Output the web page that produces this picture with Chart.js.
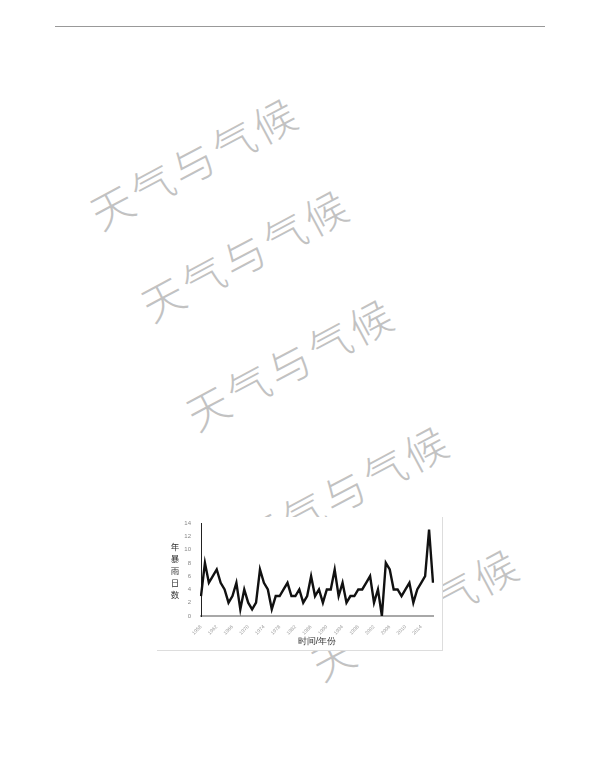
<!DOCTYPE html>
<html>
<head>
<meta charset="utf-8">
<script src="https://cdn.jsdelivr.net/npm/chart.js@4/dist/chart.umd.min.js"></script>
<style>
	html, body { margin: 0; padding: 0; background: #fff; }
	body { width: 600px; height: 768px; position: relative; overflow: hidden;
		font-family: "Noto Sans CJK SC", "Noto Sans", sans-serif; }
	#topline { position: absolute; left: 55px; top: 26px; width: 490px; height: 0;
		border-top: 1.5px solid #999; }
	.mark { position: absolute; white-space: nowrap; font-size: 42px; font-weight: 200;
		letter-spacing: 4px; color: #c2c2c2; transform: translate(-50%, -50%) rotate(-28deg); }
	#box { position: absolute; left: 157px; top: 517px; width: 285px; height: 133px;
		background: #fff; border-right: 1px solid #ddd; border-bottom: 1px solid #ddd; z-index: 2; }
	#ytitle { position: absolute; left: 12px; top: 23px; width: 12px; }
	#ytitle span { display: block; height: 12px; font-size: 8.5px; line-height: 12px;
		color: #333; text-align: center; }
</style>
</head>
<body>
<div id="topline"></div>
<div class="mark" style="left:194px; top:161px;">天气与气候</div>
<div class="mark" style="left:245px; top:253px;">天气与气候</div>
<div class="mark" style="left:290px; top:362px;">天气与气候</div>
<div class="mark" style="left:345px; top:489px;">天气与气候</div>
<div class="mark" style="left:415px; top:612px;">天气与气候</div>
<div id="box">
	<div id="ytitle"><span>年</span><span>暴</span><span>雨</span><span>日</span><span>数</span></div>
	<canvas id="chart" width="285" height="133"></canvas>
</div>
<script>
"use strict";

// Data

var YEARS = [],
	FIRST_YEAR = 1958,
	LAST_YEAR = 2017;

for (var y = FIRST_YEAR; y <= LAST_YEAR; y++) {
	YEARS.push(String(y));
}

// annual rainstorm days
var STORM_DAYS = [
	3, 8, 5, 6, 7, 5, 4, 2, 3, 5,	// 1958-1967
	1, 4, 2, 1, 2, 7, 5, 4, 1, 3,	// 1968-1977
	3, 4, 5, 3, 3, 4, 2, 3, 6, 3,	// 1978-1987
	4, 2, 4, 4, 7, 3, 5, 2, 3, 3,	// 1988-1997
	4, 4, 5, 6, 2, 4, 0, 8, 7, 4,	// 1998-2007
	4, 3, 4, 5, 2, 4, 5, 6, 13, 5	// 2008-2017
];

var Y_MIN = 0, Y_MAX = 14, Y_STEP = 2, LABEL_EVERY = 4;

// Chart

new Chart(document.getElementById("chart"), {
	type: "line",
	data: {
		labels: YEARS,
		datasets: [{
			data: STORM_DAYS,
			borderColor: "#111",
			borderWidth: 2.4,
			pointRadius: 0,
			tension: 0,
			fill: false
		}]
	},
	options: {
		responsive: false,
		animation: false,
		layout: { padding: { top: 6, right: 9, bottom: 3, left: 0 } },
		plugins: { legend: { display: false }, tooltip: { enabled: false } },
		scales: {
			x: {
				offset: false,
				grid: { display: false },
				border: { color: "#a8a8a8", width: 2 },
				ticks: {
					autoSkip: false,
					minRotation: 45,
					maxRotation: 45,
					padding: 0,
					color: "#999",
					font: { size: 5 },
					callback: function (val, i) {
						return i % LABEL_EVERY === 0 ? this.getLabelForValue(val) : "";
					}
				},
				title: {
					display: true,
					text: "时间/年份",
					color: "#333",
					font: { size: 9 },
					padding: { top: 0, bottom: 0 }
				},
				afterFit: function (scale) { scale.height = 31; }
			},
			y: {
				min: Y_MIN,
				max: Y_MAX,
				grid: { display: false },
				border: { color: "#222", width: 1 },
				ticks: { stepSize: Y_STEP, color: "#888", font: { size: 6 }, padding: 2 },
				afterFit: function (scale) { scale.width = 44; }
			}
		}
	}
});
</script>
</body>
</html>
